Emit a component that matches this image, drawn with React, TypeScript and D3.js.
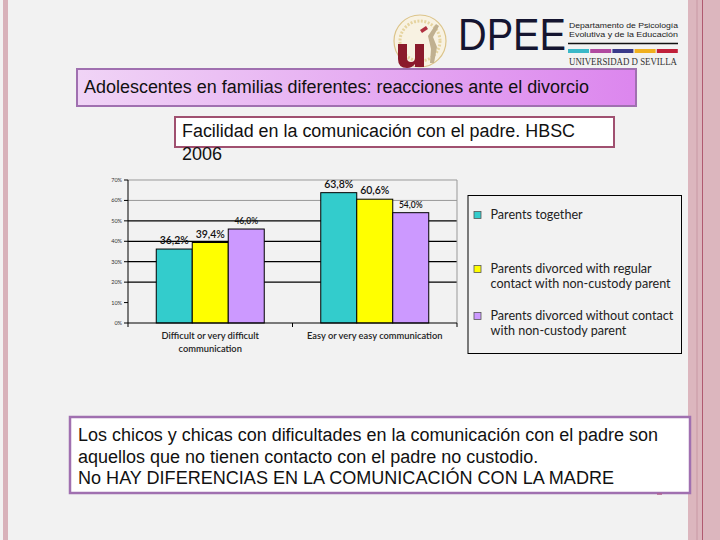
import React from "react";
import * as d3 from "d3";

const categories = ["Difficult or very difficult communication", "Easy or very easy communication"];
const categoryLines = [["Difficult or very difficult", "communication"], ["Easy or very easy communication"]];
const seriesNames = ["Parents together", "Parents divorced with regular contact with non-custody parent", "Parents divorced without contact with non-custody parent"];
const seriesLegendLines = [["Parents together"], ["Parents divorced with regular", "contact with non-custody parent"], ["Parents divorced without contact", "with non-custody parent"]];
const parentsTogether = [36.2, 63.8];
const divorcedRegular = [39.4, 60.6];
const divorcedNoContact = [46.0, 54.0];
const yTicks = [0, 10, 20, 30, 40, 50, 60, 70];

const seriesValues = [parentsTogether, divorcedRegular, divorcedNoContact];
const colors = ["#33cccc", "#ffff00", "#cc99ff"];
const labelSizes = [10.5, 10.5, 8.5];
const fmt = (v: number) => v.toFixed(1).replace(".", ",") + "%";

export default function App() {
  const left = 128, right = 457, top = 180, bottom = 323;
  const y = d3.scaleLinear().domain([0, 70]).range([bottom, top]);
  const x0 = d3.scaleBand<string>().domain(categories).range([left, right]).padding(0);
  const x1 = d3.scaleBand<string>().domain(seriesNames).range([0, x0.bandwidth()]).paddingInner(0).paddingOuter(0.785);
  const barFont = "Lato, 'Open Sans', sans-serif";
  const arial = "'Liberation Sans', Arial, sans-serif";

  return (
    <svg width={720} height={540} style={{ position: "fixed", left: 0, top: 0 }}>
      <defs>
        <linearGradient id="tg" x1="0" x2="1" y1="0" y2="0">
          <stop offset="0" stopColor="#f0d4f6" />
          <stop offset="1" stopColor="#dc86ee" />
        </linearGradient>
      </defs>
      <rect width={720} height={540} fill="#f2f2f2" />
      <rect x={3} y={0} width={5} height={540} fill="#d8b2ba" />
      <rect x={688} y={0} width={32} height={540} fill="#dcb6be" />
      <line x1={697} x2={697} y1={0} y2={540} stroke="#c898a4" strokeWidth={1} />
      <line x1={702.5} x2={702.5} y1={0} y2={540} stroke="#b05a70" strokeWidth={1} />

      {/* logo seal (drawn shapes) */}
      <circle cx={420} cy={41} r={26} fill="#f8f2e2" stroke="#dcc48a" strokeWidth={1.2} />
      <circle cx={420} cy={41} r={20} fill="none" stroke="#e6d4a0" strokeWidth={3} strokeDasharray="2 1.5" />
      <path d="M 398 44 h 9 v 14 q 0 4 4 4 q 4 0 4 -4 v -14 h 9 v 23 h -9 v -3 q -3 4 -8 4 q -9 0 -9 -9 z" fill="#8b1a2b" />
      <path d="M 428 36 l 8 -12 l 3 2 l -6 11 l 4 10 l -3 16 l -4 0 l 1 -14 z" fill="#c0b090" />
      <path d="M 420 30 l 6 -4 l 2 3 l -6 4 z" fill="#b03040" />

      <text transform="translate(458,50) scale(1,1.15)" fontSize={39} fill="#151530" fontFamily={arial} textLength={108} lengthAdjust="spacingAndGlyphs">DPEE</text>
      <text x={569} y={27.5} fontSize={7.5} fill="#222" fontFamily={arial} textLength={109} lengthAdjust="spacingAndGlyphs">Departamento de Psicología</text>
      <text x={569} y={36.5} fontSize={7.5} fill="#222" fontFamily={arial} textLength={109} lengthAdjust="spacingAndGlyphs">Evolutiva y de la Educación</text>
      <line x1={568} x2={678} y1={43.5} y2={43.5} stroke="#111" strokeWidth={1.5} />
      {["#3bb8c8", "#b04aa0", "#3a3a8a", "#f0b020", "#c0203a"].map((c, i) => (
        <rect key={c} x={568 + i * 22.2} y={49} width={21} height={4} fill={c} />
      ))}
      <text x={569} y={65} fontSize={9.5} fill="#333" fontFamily="'Liberation Serif', serif" textLength={108} lengthAdjust="spacingAndGlyphs">UNIVERSIDAD D SEVILLA</text>

      {/* title boxes */}
      <rect x={77} y={69} width={559} height={37} fill="url(#tg)" stroke="#a070b0" strokeWidth={2} />
      <text x={84} y={93} fontSize={18} fill="#111" fontFamily={arial} textLength={505} lengthAdjust="spacingAndGlyphs">Adolescentes en familias diferentes: reacciones ante el divorcio</text>
      <rect x={175} y={117} width={439} height={30} fill="#ffffff" stroke="#a05070" strokeWidth={2} />
      <text x={182} y={137} fontSize={18} fill="#111" fontFamily={arial} textLength={393} lengthAdjust="spacingAndGlyphs">Facilidad en la comunicación con el padre. HBSC</text>
      <text x={182} y={160} fontSize={18} fill="#111" fontFamily={arial}>2006</text>

      {/* chart gridlines */}
      {yTicks.filter((t) => t > 10).map((t) => (
        <line key={t} x1={left} x2={right} y1={y(t)} y2={y(t)} stroke={t >= 60 ? "#999" : "#000"} strokeWidth={t >= 60 ? 1 : 1.2} />
      ))}
      <line x1={right} x2={right} y1={top} y2={bottom} stroke="#999" />
      {yTicks.map((t) => (
        <g key={t}>
          <line x1={left - 4} x2={left} y1={y(t)} y2={y(t)} stroke="#000" />
          <text x={left - 6} y={y(t) + 2} fontSize={5.5} fill="#333" textAnchor="end" fontFamily={barFont}>{t}%</text>
        </g>
      ))}

      {/* bars */}
      {categories.map((cat, ci) => (
        <g key={cat} transform={`translate(${x0(cat)},0)`}>
          {seriesNames.map((s, si) => {
            const v = seriesValues[si][ci];
            const bx = x1(s)!;
            const bw = x1.bandwidth();
            return (
              <g key={s}>
                <rect x={bx} y={y(v)} width={bw} height={bottom - y(v)} fill={colors[si]} stroke="#000" strokeWidth={1} />
                <text x={bx + bw / 2} y={y(v) - 5} fontSize={labelSizes[si]} fontWeight={600} fill="#111" textAnchor="middle" fontFamily={barFont}>{fmt(v)}</text>
              </g>
            );
          })}
        </g>
      ))}

      <line x1={left} x2={left} y1={top} y2={bottom} stroke="#000" />
      <line x1={left} x2={right} y1={bottom} y2={bottom} stroke="#000" />
      {[left, left + x0.bandwidth(), right].map((tx) => (
        <line key={tx} x1={tx} x2={tx} y1={bottom} y2={bottom + 4} stroke="#000" />
      ))}
      {categories.map((cat, ci) => (
        <text key={cat} x={x0(cat)! + x0.bandwidth() / 2} y={339} fontSize={9.3} fontWeight={600} fill="#222" textAnchor="middle" fontFamily={barFont}>
          {categoryLines[ci].map((ln, li) => (
            <tspan key={li} x={x0(cat)! + x0.bandwidth() / 2} dy={li === 0 ? 0 : 13}>{ln}</tspan>
          ))}
        </text>
      ))}

      {/* legend */}
      <rect x={468} y={195.5} width={213.5} height={158} fill="none" stroke="#000" strokeWidth={1} />
      {seriesNames.map((s, si) => {
        const yc = [215, 269, 316][si];
        return (
          <g key={s}>
            <rect x={474} y={yc - 3.5} width={7} height={7} fill={colors[si]} stroke="#555" strokeWidth={0.8} />
            {seriesLegendLines[si].map((ln, li) => (
              <text key={li} x={490.5} y={yc + 4 + li * 15} fontSize={12.6} fill="#222" fontFamily={barFont}>{ln}</text>
            ))}
          </g>
        );
      })}

      {/* bottom box */}
      <rect x={70} y={417} width={620} height={76} fill="#ffffff" stroke="#a070b0" strokeWidth={2.5} />
      <text x={78} y={441} fontSize={18} fill="#111" fontFamily={arial} textLength={580} lengthAdjust="spacingAndGlyphs">Los chicos y chicas con dificultades en la comunicación con el padre son</text>
      <text x={78} y={462.5} fontSize={18} fill="#111" fontFamily={arial}>aquellos que no tienen contacto con el padre no custodio.</text>
      <text x={78} y={484} fontSize={18} fill="#111" fontFamily={arial} textLength={536} lengthAdjust="spacingAndGlyphs">No HAY DIFERENCIAS EN LA COMUNICACIÓN CON LA MADRE</text>
      <line x1={657} x2={662} y1={494} y2={494} stroke="#b06090" strokeWidth={1.5} />
    </svg>
  );
}
